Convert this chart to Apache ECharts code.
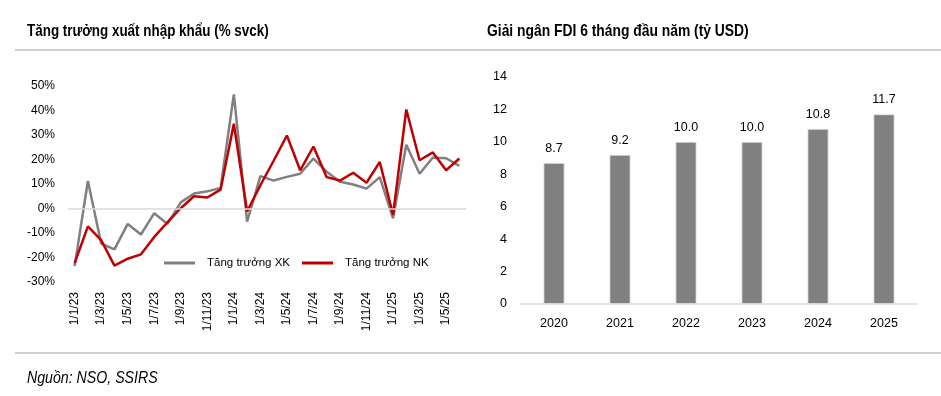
<!DOCTYPE html>
<html>
<head>
<meta charset="utf-8">
<script src="https://cdn.jsdelivr.net/npm/echarts@6/dist/echarts.min.js"></script>
<style>
html,body{margin:0;padding:0;background:#fff;}
#c{width:941px;height:396px;}
</style>
</head>
<body>
<div id="c"></div>
<script>
var months = ["1/1/23","1/2/23","1/3/23","1/4/23","1/5/23","1/6/23","1/7/23","1/8/23","1/9/23","1/10/23","1/11/23","1/12/23",
              "1/1/24","1/2/24","1/3/24","1/4/24","1/5/24","1/6/24","1/7/24","1/8/24","1/9/24","1/10/24","1/11/24","1/12/24",
              "1/1/25","1/2/25","1/3/25","1/4/25","1/5/25","1/6/25"];
var exportGrowth = [-23.5,11.2,-14.3,-16.7,-6.3,-10.6,-1.9,-6.3,2.5,6.1,7.0,8.4,
                    46.6,-5.4,13.2,11.4,12.9,14.2,20.4,15.0,10.9,9.8,8.1,12.8,
                    -4.0,26.0,14.2,20.8,20.5,17.4];
var importGrowth = [-22.3,-7.3,-12.9,-23.3,-20.5,-18.7,-11.6,-5.6,0.1,5.0,4.5,7.7,
                    34.6,-1.2,9.5,19.5,29.8,15.6,25.3,12.8,11.4,14.6,10.5,19.0,
                    -2.6,40.4,19.7,22.9,15.6,20.4];
var years = ["2020","2021","2022","2023","2024","2025"];
var fdiDisbursed = [8.7,9.2,10.0,10.0,10.8,11.7];

var FONT = "'Liberation Sans Narrow','Arial Narrow','Liberation Sans',Arial,sans-serif";
var chart = echarts.init(document.getElementById('c'));
chart.setOption({
  backgroundColor:'#ffffff',
  animation:false,
  textStyle:{fontFamily:FONT},
  graphic:[
    {type:'text', x:27, y:31, scaleX:0.79, silent:true,
     style:{text:'Tăng trưởng xuất nhập khẩu (% svck)', font:'bold 17px '+FONT, fill:'#000', textAlign:'left', textVerticalAlign:'middle'}},
    {type:'text', x:487, y:31, scaleX:0.815, silent:true,
     style:{text:'Giải ngân FDI 6 tháng đầu năm (tỷ USD)', font:'bold 17px '+FONT, fill:'#000', textAlign:'left', textVerticalAlign:'middle'}},
    {type:'text', x:27, y:379, scaleX:0.885, silent:true,
     style:{text:'Nguồn: NSO, SSIRS', font:'italic 16px '+FONT, fill:'#000', textAlign:'left', textVerticalAlign:'middle'}},
    {type:'line',shape:{x1:15,y1:50,x2:941,y2:50},style:{stroke:'#bfbfbf',lineWidth:1.5},silent:true},
    {type:'line',shape:{x1:15,y1:353,x2:941,y2:353},style:{stroke:'#bfbfbf',lineWidth:1.5},silent:true}
  ],
  legend:{
    left:164, top:257, padding:0, itemWidth:31, itemHeight:3, itemGap:12,
    icon:'rect',
    textStyle:{fontFamily:FONT,fontSize:11.5,color:'#000',padding:[0,0,0,7]},
    data:['Tăng trưởng XK','Tăng trưởng NK']
  },
  grid:[
    {left:68, top:86, width:398, height:196},
    {left:521, top:77, width:396, height:227}
  ],
  xAxis:[
    {type:'category', gridIndex:0, data:months, boundaryGap:true,
     axisLine:{show:false}, axisTick:{show:false},
     axisLabel:{interval:1, rotate:90, margin:10, fontFamily:FONT, fontSize:12, color:'#000'}},
    {type:'category', gridIndex:1, data:years,
     axisLine:{show:true,lineStyle:{color:'#d9d9d9',width:1.5}}, axisTick:{show:false},
     axisLabel:{margin:13, fontFamily:FONT, fontSize:12.5, color:'#000'}}
  ],
  yAxis:[
    {type:'value', gridIndex:0, min:-30, max:50, interval:10,
     axisLine:{show:false}, axisTick:{show:false}, splitLine:{show:false},
     axisLabel:{formatter:'{value}%', margin:13, fontFamily:FONT, fontSize:12, color:'#000'}},
    {type:'value', gridIndex:1, min:0, max:14, interval:2,
     axisLine:{show:false}, axisTick:{show:false}, splitLine:{show:false},
     axisLabel:{margin:14, fontFamily:FONT, fontSize:12.5, color:'#000'}}
  ],
  series:[
    {name:'Tăng trưởng XK', type:'line', xAxisIndex:0, yAxisIndex:0, data:exportGrowth,
     showSymbol:false, symbol:'none', color:'#808080', lineStyle:{color:'#808080',width:2.5},
     markLine:{silent:true, symbol:'none', label:{show:false},
       lineStyle:{color:'#d9d9d9',width:1.5,type:'solid'}, data:[{yAxis:0}]}, z:2},
    {name:'Tăng trưởng NK', type:'line', xAxisIndex:0, yAxisIndex:0, data:importGrowth,
     showSymbol:false, symbol:'none', color:'#c00000', lineStyle:{color:'#c00000',width:2.5}, z:3},
    {name:'FDI', type:'bar', xAxisIndex:1, yAxisIndex:1, data:fdiDisbursed,
     barWidth:21, itemStyle:{color:'#808080', borderColor:'#e6e6e6', borderWidth:0.8},
     label:{show:true, position:'top', distance:8, formatter:function(p){return p.value.toFixed(1);},
       fontFamily:FONT, fontSize:12.5, color:'#000'}}
  ]
});
</script>
</body>
</html>
